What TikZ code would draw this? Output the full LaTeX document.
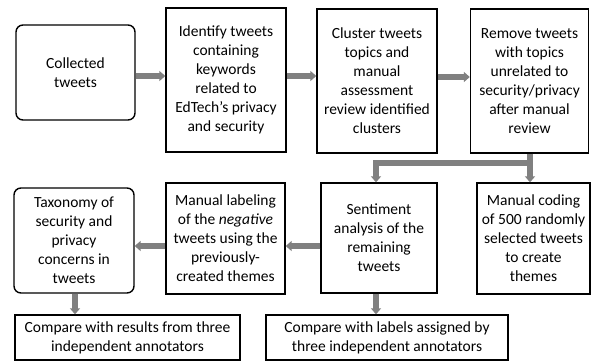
\documentclass[tikz,border=0pt]{standalone}
\usepackage{fontspec}
\setmainfont{Carlito}
\usetikzlibrary{arrows.meta}
\begin{document}
\begin{tikzpicture}[x=1pt,y=-1pt,
  box/.style={draw=black,line width=1.4pt,align=center,inner sep=0pt,font=\fontsize{15.5}{19}\selectfont},
  rbox/.style={box,rounded corners=7pt},
  arr/.style={draw={rgb,255:red,128;green,128;blue,128},line width=5.5pt,-{Triangle[width=10pt,length=6pt]}},
  seg/.style={draw={rgb,255:red,128;green,128;blue,128},line width=5.5pt}]
\useasboundingbox (0,0) rectangle (591,362);
\node[rbox,minimum width=119pt,minimum height=95pt] (b1) at (75.5,72.5) {Collected\\tweets};
\node[box,minimum width=120pt,minimum height=144pt] (b2) at (226,80) {Identify tweets\\containing\\keywords\\related to\\EdTech’s privacy\\and security};
\node[box,minimum width=120pt,minimum height=144pt] (b3) at (377,81) {Cluster tweets\\topics and\\manual\\assessment\\review identified\\clusters};
\node[box,minimum width=118pt,minimum height=144pt] (b4) at (529.5,81) {Remove tweets\\with topics\\unrelated to\\security/privacy\\after manual\\review};
\node[box,minimum width=116pt,minimum height=110pt] (b5) at (379,238) {Sentiment\\analysis of the\\remaining\\tweets};
\node[box,minimum width=113pt,minimum height=111pt] (b6) at (533.5,238.5) {Manual coding\\of 500 randomly\\selected tweets\\to create\\themes};
\node[box,minimum width=119pt,minimum height=111pt] (b7) at (225.5,238.5) {Manual labeling\\of the \emph{negative}\\tweets using the\\previously-\\created themes};
\node[rbox,minimum width=120pt,minimum height=105pt] (b8) at (74,240.5) {Taxonomy of\\security and\\privacy\\concerns in\\tweets};
\node[box,minimum width=225pt,minimum height=45pt] (b9) at (127.5,337.5) {Compare with results from three\\independent annotators};
\node[box,minimum width=242pt,minimum height=45pt] (b10) at (387,337.5) {Compare with labels assigned by\\three independent annotators};
\coordinate (j1) at (530,163);
\coordinate (j2) at (376,163);
\draw[arr] (b1.east |- 0,76) -- (b2.west |- 0,76);
\draw[arr] (b2.east |- 0,76) -- (b3.west |- 0,76);
\draw[arr] (b3.east |- 0,77) -- (b4.west |- 0,77);
\draw[seg] (b4.south -| j1) -- (j1) -- ([xshift=-2.75pt]j2);
\draw[arr] (j1) -- (b6.north -| j1);
\draw[arr] (j2) -- (b5.north -| j2);
\draw[arr] (b5.west |- 0,246) -- (b7.east |- 0,246);
\draw[arr] (b7.west |- 0,246) -- (b8.east |- 0,246);
\draw[arr] (b8.south -| 75,0) -- (b9.north -| 75,0);
\draw[arr] (b5.south -| 376,0) -- (b10.north -| 376,0);
\end{tikzpicture}
\end{document}
